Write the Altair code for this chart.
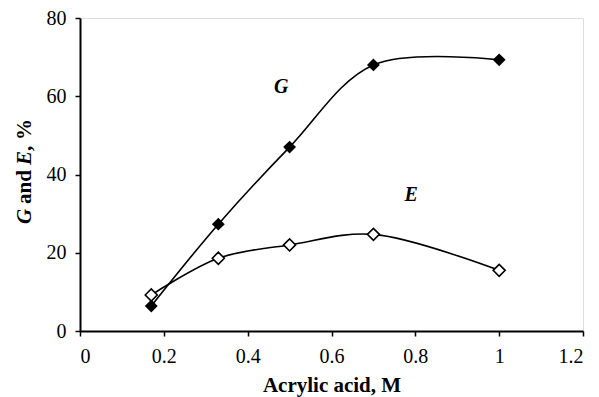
import altair as alt
import pandas as pd

conc = [0.17, 0.33, 0.5, 0.7, 1.0]
g_vals = [6.4, 27.3, 47.0, 68.0, 69.3]
e_vals = [9.2, 18.6, 22.0, 24.7, 15.5]
x_ticks = [0, 0.2, 0.4, 0.6, 0.8, 1.0, 1.2]
y_ticks = [0, 20, 40, 60, 80]
labels = ["G", "E"]
label_x = [0.48, 0.79]
label_y = [62.4, 34.8]

df = pd.DataFrame({
    "x": conc * 2,
    "y": g_vals + e_vals,
    "s": ["G"] * len(conc) + ["E"] * len(conc),
})
lab = pd.DataFrame({"x": label_x, "y": label_y, "t": labels})

FONT = "Liberation Serif"

xs = alt.Scale(domain=[0, 1.2], nice=False, zero=False)
ys = alt.Scale(domain=[0, 80], nice=False)

xax = alt.Axis(values=x_ticks, format="~g", title="Acrylic acid, M", grid=False,
               domainColor="black", domainWidth=2, tickColor="black", tickWidth=1.5,
               tickSize=5, labelFont=FONT, labelFontSize=20, labelColor="black",
               labelPadding=10, titleFont=FONT, titleFontSize=21, titleFontWeight="bold",
               titleColor="black", titlePadding=8)
yax = alt.Axis(values=y_ticks, title=None, grid=False,
               domainColor="black", domainWidth=2, tickColor="black", tickWidth=1.5,
               tickSize=5, labelFont=FONT, labelFontSize=20, labelColor="black",
               labelPadding=9)

base = alt.Chart(df)
lines = base.mark_line(color="black", strokeWidth=1.6, interpolate="catmull-rom").encode(
    x=alt.X("x:Q", scale=xs, axis=xax),
    y=alt.Y("y:Q", scale=ys, axis=yax),
    detail="s:N",
)
g_pts = base.transform_filter(alt.datum.s == "G").mark_point(
    shape="diamond", size=165, filled=True, color="black", opacity=1
).encode(x="x:Q", y="y:Q")
e_pts = base.transform_filter(alt.datum.s == "E").mark_point(
    shape="diamond", size=145, filled=False, fill="white", stroke="black",
    strokeWidth=1.6, opacity=1
).encode(x="x:Q", y="y:Q")
texts = alt.Chart(lab).mark_text(
    font=FONT, fontSize=20, fontWeight="bold", fontStyle="italic", color="black"
).encode(x="x:Q", y="y:Q", text="t:N")

# y-axis title "G and E, %" with italic G and E, written bottom-to-top
title_one = pd.DataFrame({"k": [0]})
tx = -49
def title_piece(txt, ypix, italic):
    return alt.Chart(title_one).mark_text(
        text=txt, font=FONT, fontSize=21, fontWeight="bold",
        fontStyle="italic" if italic else "normal", color="black",
        angle=270, align="left", baseline="alphabetic",
    ).encode(x=alt.value(tx), y=alt.value(ypix))

t1 = title_piece("G", 206, True)
t2 = title_piece("and", 186, False)
t3 = title_piece("E", 147, True)
t4 = title_piece(",", 133, False)
t5 = title_piece("%", 122, False)

chart = alt.layer(lines, g_pts, e_pts, texts, t1, t2, t3, t4, t5).properties(
    width=503, height=313,
    autosize=alt.AutoSizeParams(type="none"),
    padding={"left": 80, "top": 18, "right": 16, "bottom": 66},
).configure_view(stroke=None).configure(background="white")

chart.save("out.html", embed_options={"renderer": "svg", "actions": False})
